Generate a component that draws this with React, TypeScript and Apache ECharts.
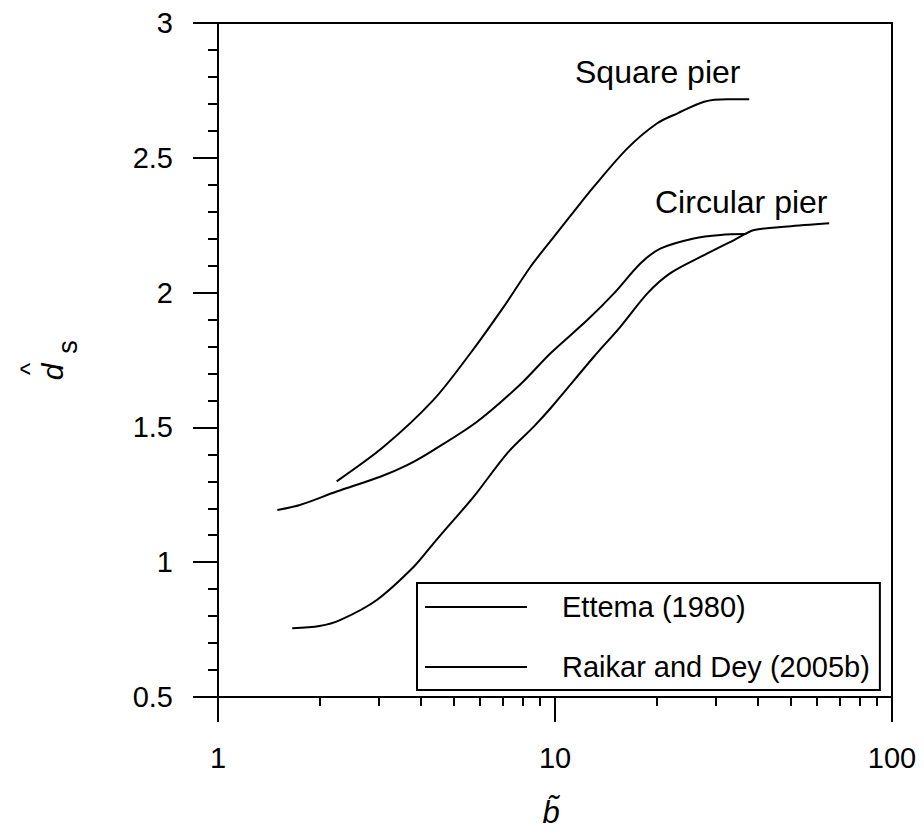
import React, { useEffect, useRef } from "react";
import * as echarts from "echarts";

const FONT = "'Liberation Sans', Arial, Helvetica, sans-serif";

// Ettema (1980) – square pier
const squareX = [2.25, 3.1, 4.36, 5.61, 7.05, 8.46, 9.92, 11.2, 13.04, 16.4, 20.1, 23.1, 27.7, 32.5, 37.7];
const squareY = [1.3, 1.428, 1.602, 1.775, 1.948, 2.096, 2.207, 2.29, 2.393, 2.535, 2.628, 2.665, 2.708, 2.717, 2.717];

// Ettema (1980) – circular pier
const circEX = [1.5, 1.75, 2.25, 3.03, 3.64, 4.36, 5.87, 7.9, 9.7, 12.47, 14.96, 17.95, 20.6, 25.8, 31.0, 37.0];
const circEY = [1.194, 1.212, 1.262, 1.317, 1.36, 1.416, 1.521, 1.66, 1.775, 1.898, 1.997, 2.109, 2.164, 2.201, 2.214, 2.217];

// Raikar and Dey (2005b) – circular pier
const circRX = [1.66, 2.0, 2.31, 2.96, 3.81, 4.36, 5.0, 5.74, 7.21, 8.65, 9.7, 13.04, 15.65, 18.8, 22.0, 27.7, 34.0, 39.0, 49.0, 65.1];
const circRY = [0.755, 0.763, 0.786, 0.86, 0.983, 1.07, 1.156, 1.243, 1.404, 1.503, 1.571, 1.762, 1.874, 1.997, 2.072, 2.139, 2.195, 2.232, 2.245, 2.257];

const legendNames = ["Ettema (1980)", "Raikar and Dey (2005b)"];
const xMajorTicks = [1, 10, 100];
const xMinorTicks = [2, 3, 4, 5, 6, 7, 8, 9, 20, 30, 40, 50, 60, 70, 80, 90];
const yMin = 0.5;
const yMax = 3;
const yInterval = 0.5;

const zip = (xs: number[], ys: number[]) => xs.map((x, i) => [x, ys[i]]);

export default function App() {
  const ref = useRef<HTMLDivElement>(null);
  useEffect(() => {
    if (!ref.current) return;
    const chart = echarts.init(ref.current, null, { renderer: "svg" });
    const lineStyle = { color: "#000", width: 2 };
    const seriesCommon = {
      type: "line" as const,
      xAxisIndex: 0,
      yAxisIndex: 0,
      symbol: "none",
      showSymbol: false,
      smooth: 0.3,
      lineStyle,
      itemStyle: { color: "#000" },
      silent: true,
    };
    chart.setOption({
      animation: false,
      backgroundColor: "#fff",
      grid: {
        left: 218,
        right: 32,
        top: 23,
        bottom: 134,
        show: true,
        borderColor: "#000",
        borderWidth: 2,
        backgroundColor: "transparent",
      },
      legend: {
        left: 417,
        top: 583,
        orient: "vertical",
        icon: "rect",
        itemWidth: 102,
        itemHeight: 2,
        itemGap: 30,
        itemStyle: { color: "#000" },
        borderColor: "#000",
        borderWidth: 2,
        padding: [9, 10, 8, 8],
        selectedMode: false,
        data: legendNames,
        textStyle: {
          fontSize: 29,
          fontFamily: FONT,
          color: "#000",
          padding: [0, 0, 0, 30],
          lineHeight: 30,
        },
      },
      xAxis: [
        {
          type: "log",
          logBase: 10,
          min: 1,
          max: 100,
          position: "bottom",
          axisLine: { show: true, lineStyle: { color: "#000", width: 2 } },
          axisTick: { show: true, length: 25, lineStyle: { color: "#000", width: 2 }, customValues: xMajorTicks },
          minorTick: { show: false },
          splitLine: { show: false },
          axisLabel: {
            fontSize: 29,
            fontFamily: FONT,
            color: "#000",
            margin: 46,
            customValues: xMajorTicks,
          },
        },
        {
          type: "log",
          logBase: 10,
          min: 1,
          max: 100,
          position: "bottom",
          axisLine: { show: false },
          axisTick: { show: true, inside: false, length: 9, lineStyle: { color: "#000", width: 2 }, customValues: xMinorTicks },
          axisLabel: { show: false },
          splitLine: { show: false },
        },
      ],
      yAxis: {
        type: "value",
        min: yMin,
        max: yMax,
        interval: yInterval,
        axisLine: { show: true, lineStyle: { color: "#000", width: 2 } },
        axisTick: { show: true, length: 25, lineStyle: { color: "#000", width: 2 } },
        minorTick: { show: true, splitNumber: 5, length: 10, lineStyle: { color: "#000", width: 2 } },
        splitLine: { show: false },
        minorSplitLine: { show: false },
        axisLabel: { fontSize: 29, fontFamily: FONT, color: "#000", margin: 45 },
      },
      series: [
        { ...seriesCommon, name: legendNames[0], data: zip(squareX, squareY) },
        { ...seriesCommon, name: legendNames[0], data: zip(circEX, circEY) },
        { ...seriesCommon, name: legendNames[1], data: zip(circRX, circRY) },
      ],
      graphic: [
        {
          type: "text",
          left: 575,
          top: 56,
          style: { text: "Square pier", fontSize: 32, fontFamily: FONT, fill: "#000" },
        },
        {
          type: "text",
          left: 655,
          top: 186,
          style: { text: "Circular pier", fontSize: 32, fontFamily: FONT, fill: "#000" },
        },
        {
          type: "text",
          x: 551,
          y: 812,
          style: {
            text: "b\u0303",
            fontSize: 31,
            fontStyle: "italic",
            fontFamily: FONT,
            fill: "#000",
            align: "center",
            verticalAlign: "middle",
          },
        },
        {
          type: "group",
          x: 52,
          y: 372,
          rotation: Math.PI / 2,
          children: [
            {
              type: "text",
              x: 0,
              y: 0,
              style: { text: "d", fontSize: 30, fontStyle: "italic", fontFamily: FONT, fill: "#000", align: "center", verticalAlign: "middle" },
            },
            {
              type: "text",
              x: 3,
              y: -22,
              style: { text: "^", fontSize: 26, fontFamily: FONT, fill: "#000", align: "center", verticalAlign: "middle" },
            },
            {
              type: "text",
              x: 25,
              y: 16,
              style: { text: "s", fontSize: 27, fontFamily: FONT, fill: "#000", align: "center", verticalAlign: "middle" },
            },
          ],
        },
      ],
    });
    return () => chart.dispose();
  }, []);
  return (
    <div
      ref={ref}
      style={{ position: "absolute", left: 0, top: 0, width: 924, height: 831 }}
    />
  );
}
